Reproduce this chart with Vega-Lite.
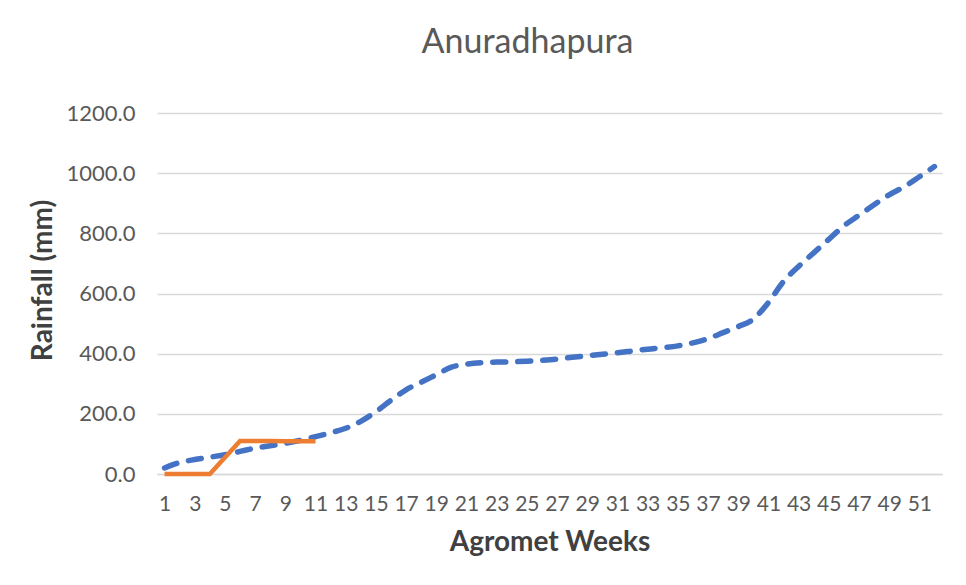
{
  "$schema": "https://vega.github.io/schema/vega-lite/v6.json",
  "autosize": {"type": "none"},
  "width": 785,
  "height": 361,
  "padding": {"left": 157, "top": 113, "right": 24, "bottom": 111},
  "background": "white",
  "title": {
    "text": "Anuradhapura",
    "font": "Lato",
    "fontSize": 34,
    "fontWeight": "normal",
    "color": "#595959",
    "anchor": "middle",
    "dx": -22,
    "offset": 42
  },
  "datasets": {
    "average": [
      {"week": 1, "rainfall": 20}, {"week": 2, "rainfall": 38}, {"week": 3, "rainfall": 48},
      {"week": 4, "rainfall": 56}, {"week": 5, "rainfall": 64}, {"week": 6, "rainfall": 75},
      {"week": 7, "rainfall": 86}, {"week": 8, "rainfall": 94}, {"week": 9, "rainfall": 102},
      {"week": 10, "rainfall": 112}, {"week": 11, "rainfall": 124}, {"week": 12, "rainfall": 137},
      {"week": 13, "rainfall": 152}, {"week": 14, "rainfall": 175}, {"week": 15, "rainfall": 207},
      {"week": 16, "rainfall": 245}, {"week": 17, "rainfall": 280}, {"week": 18, "rainfall": 305},
      {"week": 19, "rainfall": 330}, {"week": 20, "rainfall": 355}, {"week": 21, "rainfall": 365},
      {"week": 22, "rainfall": 370}, {"week": 23, "rainfall": 372}, {"week": 24, "rainfall": 373},
      {"week": 25, "rainfall": 375}, {"week": 26, "rainfall": 378}, {"week": 27, "rainfall": 382},
      {"week": 28, "rainfall": 388}, {"week": 29, "rainfall": 393}, {"week": 30, "rainfall": 398},
      {"week": 31, "rainfall": 403}, {"week": 32, "rainfall": 409}, {"week": 33, "rainfall": 415},
      {"week": 34, "rainfall": 420}, {"week": 35, "rainfall": 426}, {"week": 36, "rainfall": 436},
      {"week": 37, "rainfall": 450}, {"week": 38, "rainfall": 470}, {"week": 39, "rainfall": 490},
      {"week": 40, "rainfall": 515}, {"week": 41, "rainfall": 570}, {"week": 42, "rainfall": 640},
      {"week": 43, "rainfall": 690}, {"week": 44, "rainfall": 735}, {"week": 45, "rainfall": 780},
      {"week": 46, "rainfall": 825}, {"week": 47, "rainfall": 860}, {"week": 48, "rainfall": 895},
      {"week": 49, "rainfall": 928}, {"week": 50, "rainfall": 955}, {"week": 51, "rainfall": 988},
      {"week": 52, "rainfall": 1022}
    ],
    "current": [
      {"week": 1, "rainfall": 0}, {"week": 2, "rainfall": 0}, {"week": 3, "rainfall": 0},
      {"week": 4, "rainfall": 0}, {"week": 5, "rainfall": 55}, {"week": 6, "rainfall": 110},
      {"week": 7, "rainfall": 110}, {"week": 8, "rainfall": 110}, {"week": 9, "rainfall": 109},
      {"week": 10, "rainfall": 109}, {"week": 11, "rainfall": 109}
    ]
  },
  "encoding": {
    "x": {
      "field": "week",
      "type": "quantitative",
      "scale": {"domain": [0.5, 52.5], "nice": false, "zero": false},
      "axis": {
        "title": "Agromet Weeks",
        "values": [1,3,5,7,9,11,13,15,17,19,21,23,25,27,29,31,33,35,37,39,41,43,45,47,49,51],
        "grid": false,
        "ticks": false,
        "tickSize": 0,
        "domain": true,
        "domainColor": "#d9d9d9",
        "domainWidth": 1.5,
        "labelFont": "Lato",
        "labelFontSize": 21,
        "labelColor": "#595959",
        "labelPadding": 19,
        "labelOverlap": false,
        "labelFlush": false,
        "titleFont": "Lato",
        "titleFontSize": 28,
        "titleFontWeight": "bold",
        "titleColor": "#404040",
        "titlePadding": 14
      }
    },
    "y": {
      "field": "rainfall",
      "type": "quantitative",
      "scale": {"domain": [0, 1200], "nice": false},
      "axis": {
        "title": "Rainfall (mm)",
        "values": [0, 200, 400, 600, 800, 1000, 1200],
        "format": ".1f",
        "grid": true,
        "gridColor": "#d9d9d9",
        "gridWidth": 1.5,
        "ticks": false,
        "tickSize": 0,
        "domain": false,
        "labelFont": "Lato",
        "labelFontSize": 22,
        "labelColor": "#595959",
        "labelPadding": 22,
        "titleFont": "Lato",
        "titleFontSize": 28,
        "titleFontWeight": "bold",
        "titleColor": "#404040",
        "titlePadding": 9,
        "titleY": 167
      }
    }
  },
  "layer": [
    {
      "data": {"name": "average"},
      "mark": {
        "type": "line",
        "color": "#4472C4",
        "strokeWidth": 5.5,
        "strokeDash": [13, 12],
        "strokeCap": "round",
        "interpolate": "monotone"
      }
    },
    {
      "data": {"name": "current"},
      "mark": {
        "type": "line",
        "color": "#ED7D31",
        "strokeWidth": 4.5,
        "strokeCap": "butt"
      }
    }
  ],
  "config": {"view": {"stroke": null}}
}
